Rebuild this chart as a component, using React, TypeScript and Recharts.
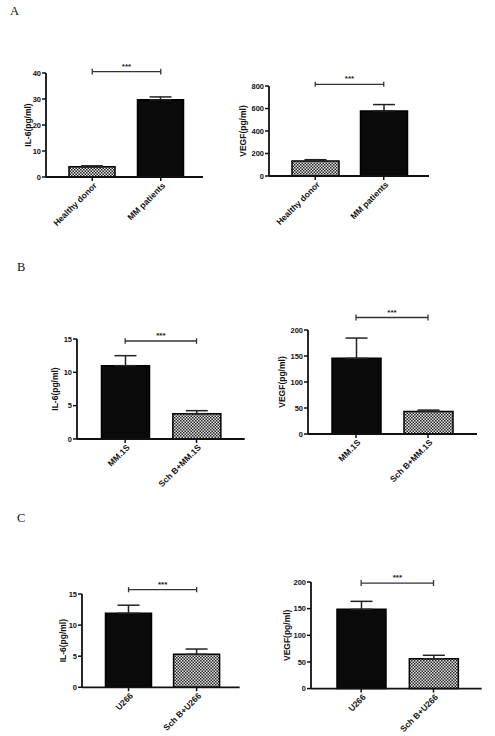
import React from 'react';
import { Bar, BarChart, Cell, ErrorBar, ReferenceLine, XAxis, YAxis } from 'recharts';

// Panel A: serum levels
const A_GROUPS = ['Healthy donor', 'MM patients'];
const A_IL6 = [3.9, 29.7];
const A_IL6_ERR = [0.4, 1.1];
const A_VEGF = [133, 578];
const A_VEGF_ERR = [12, 57];
const A_CHECKED = [true, false];

// Panel B: MM.1S cells
const B_GROUPS = ['MM.1S', 'Sch B+MM.1S'];
const B_IL6 = [11.0, 3.8];
const B_IL6_ERR = [1.5, 0.45];
const B_VEGF = [145.5, 43.5];
const B_VEGF_ERR = [39, 2.5];
const B_CHECKED = [false, true];

// Panel C: U266 cells
const C_GROUPS = ['U266', 'Sch B+U266'];
const C_IL6 = [11.9, 5.3];
const C_IL6_ERR = [1.3, 0.85];
const C_VEGF = [148.7, 56];
const C_VEGF_ERR = [15, 6.5];
const C_CHECKED = [false, true];

// Axis ticks
const IL6_TICKS_A = [0, 10, 20, 30, 40];
const VEGF_TICKS_A = [0, 200, 400, 600, 800];
const IL6_TICKS = [0, 5, 10, 15];
const VEGF_TICKS = [0, 50, 100, 150, 200];

// Height of the significance bracket, in axis units
const A_IL6_SIG = 40.5;
const A_VEGF_SIG = 815;
const B_IL6_SIG = 14.7;
const B_VEGF_SIG = 224;
const C_IL6_SIG = 15.7;
const C_VEGF_SIG = 198;

const SANS = '"Liberation Sans", Arial, sans-serif';
const AXIS_W = 50;
const TOP_M = 30;
const X_H = 70;

const AxisTitle = (props: any) => {
  const { viewBox, text, gap } = props;
  const cx = viewBox.x + viewBox.width - gap;
  const cy = viewBox.y + viewBox.height / 2;
  return (
    <text
      x={cx}
      y={cy}
      transform={`rotate(-90 ${cx} ${cy})`}
      textAnchor="middle"
      dominantBaseline="central"
      fontFamily={SANS}
      fontWeight="bold"
      fontSize={8.5}
      fill="#111"
    >
      {text}
    </text>
  );
};

const GroupTick = (props: any) => {
  const { x, y, payload } = props;
  const tx = x + 3;
  const ty = y + 1;
  return (
    <text
      x={tx}
      y={ty}
      dy="0.35em"
      transform={`rotate(-45 ${tx} ${ty})`}
      textAnchor="end"
      fontFamily={SANS}
      fontWeight="bold"
      fontSize={8.5}
      fill="#111"
    >
      {payload.value}
    </text>
  );
};

interface PanelProps {
  id: string;
  groups: string[];
  values: number[];
  errors: number[];
  checked: boolean[];
  ticks: number[];
  title: string;
  sig: number;
  // layout in page pixels
  axisX: number;
  topY: number;
  zeroY: number;
  endX: number;
  padL: number;
  padR: number;
  barSize: number;
  titleGap: number;
}

const Panel = (p: PanelProps) => {
  const data = p.groups.map((g, i) => ({ name: g, value: p.values[i], err: [0, p.errors[i]] }));
  const plotW = p.endX - p.axisX;
  const plotH = p.zeroY - p.topY;
  const yMax = p.ticks[p.ticks.length - 1];
  const d = yMax * 0.028;
  const pid = `chk-${p.id}`;
  return (
    <div style={{ position: 'absolute', left: p.axisX - AXIS_W, top: p.topY - TOP_M }}>
      <BarChart
        width={AXIS_W + plotW + 8}
        height={TOP_M + plotH + X_H}
        data={data}
        margin={{ top: TOP_M, right: 8, bottom: 0, left: 0 }}
        style={{ overflow: 'visible' }}
      >
        <defs>
          <pattern id={pid} width={3} height={3} patternUnits="userSpaceOnUse">
            <rect width={3} height={3} fill="#e6e6e6" />
            <rect width={1.5} height={1.5} fill="#222" />
            <rect x={1.5} y={1.5} width={1.5} height={1.5} fill="#222" />
          </pattern>
        </defs>
        <XAxis
          dataKey="name"
          height={X_H}
          interval={0}
          padding={{ left: p.padL, right: p.padR }}
          axisLine={{ stroke: '#111', strokeWidth: 1.8 }}
          tickLine={{ stroke: '#111', strokeWidth: 1.5 }}
          tickSize={4}
          tick={<GroupTick />}
        />
        <YAxis
          width={AXIS_W}
          domain={[0, yMax]}
          ticks={p.ticks}
          interval={0}
          axisLine={{ stroke: '#111', strokeWidth: 1.8 }}
          tickLine={{ stroke: '#111', strokeWidth: 1.5 }}
          tickSize={4}
          tickMargin={1}
          tick={{ fontFamily: SANS, fontWeight: 'bold', fontSize: 7.5, fill: '#111' }}
          label={<AxisTitle text={p.title} gap={p.titleGap} />}
        />
        <Bar
          dataKey="value"
          barSize={p.barSize}
          stroke="#000"
          strokeWidth={1.5}
          isAnimationActive={false}
        >
          {data.map((row, i) => (
            <Cell key={row.name} fill={p.checked[i] ? `url(#${pid})` : '#0a0a0a'} />
          ))}
          <ErrorBar dataKey="err" direction="y" width={11} stroke="#222" strokeWidth={1.5} />
        </Bar>
        <ReferenceLine
          segment={[{ x: p.groups[0], y: p.sig }, { x: p.groups[1], y: p.sig }]}
          stroke="#333"
          strokeWidth={1.3}
          ifOverflow="visible"
          label={{ value: '***', position: 'top', offset: 3, fontFamily: SANS, fontWeight: 'bold', fontSize: 8, fill: '#222' }}
        />
        {p.groups.map((g) => (
          <ReferenceLine
            key={g}
            segment={[{ x: g, y: p.sig - d }, { x: g, y: p.sig + d }]}
            stroke="#333"
            strokeWidth={1.3}
            ifOverflow="visible"
          />
        ))}
      </BarChart>
    </div>
  );
};

const Letter = ({ text, x, y }: { text: string; x: number; y: number }) => (
  <div
    style={{
      position: 'absolute',
      left: x,
      top: y,
      fontFamily: '"Liberation Serif", "Times New Roman", serif',
      fontSize: 12.5,
      lineHeight: 1,
      color: '#111',
    }}
  >
    {text}
  </div>
);

export default function App() {
  return (
    <div style={{ position: 'absolute', left: 0, top: 0, width: 495, height: 736, background: '#fff', overflow: 'hidden' }}>
      <Letter text="A" x={10} y={5} />
      <Letter text="B" x={17} y={261} />
      <Letter text="C" x={17} y={512} />

      <Panel id="a1" groups={A_GROUPS} values={A_IL6} errors={A_IL6_ERR} checked={A_CHECKED}
        ticks={IL6_TICKS_A} title="IL-6(pg/ml)" sig={A_IL6_SIG}
        axisX={46} topY={72.7} zeroY={176.7} endX={203} padL={12} padR={8} barSize={46} titleGap={18} />
      <Panel id="a2" groups={A_GROUPS} values={A_VEGF} errors={A_VEGF_ERR} checked={A_CHECKED}
        ticks={VEGF_TICKS_A} title="VEGF(pg/ml)" sig={A_VEGF_SIG}
        axisX={269} topY={85.7} zeroY={175.7} endX={429} padL={12} padR={11} barSize={47} titleGap={26} />

      <Panel id="b1" groups={B_GROUPS} values={B_IL6} errors={B_IL6_ERR} checked={B_CHECKED}
        ticks={IL6_TICKS} title="IL-6(pg/ml)" sig={B_IL6_SIG}
        axisX={77.3} topY={339.3} zeroY={439.3} endX={245} padL={12.5} padR={12.5} barSize={48} titleGap={22} />
      <Panel id="b2" groups={B_GROUPS} values={B_VEGF} errors={B_VEGF_ERR} checked={B_CHECKED}
        ticks={VEGF_TICKS} title="VEGF(pg/ml)" sig={B_VEGF_SIG}
        axisX={308.3} topY={330} zeroY={434} endX={477.3} padL={12} padR={13} barSize={49} titleGap={26} />

      <Panel id="c1" groups={C_GROUPS} values={C_IL6} errors={C_IL6_ERR} checked={C_CHECKED}
        ticks={IL6_TICKS} title="IL-6(pg/ml)" sig={C_IL6_SIG}
        axisX={82.3} topY={594} zeroY={687.3} endX={240} padL={12.5} padR={9} barSize={46} titleGap={19} />
      <Panel id="c2" groups={C_GROUPS} values={C_VEGF} errors={C_VEGF_ERR} checked={C_CHECKED}
        ticks={VEGF_TICKS} title="VEGF(pg/ml)" sig={C_VEGF_SIG}
        axisX={311} topY={581.7} zeroY={688.3} endX={481.7} padL={14} padR={12} barSize={49} titleGap={24} />
    </div>
  );
}
